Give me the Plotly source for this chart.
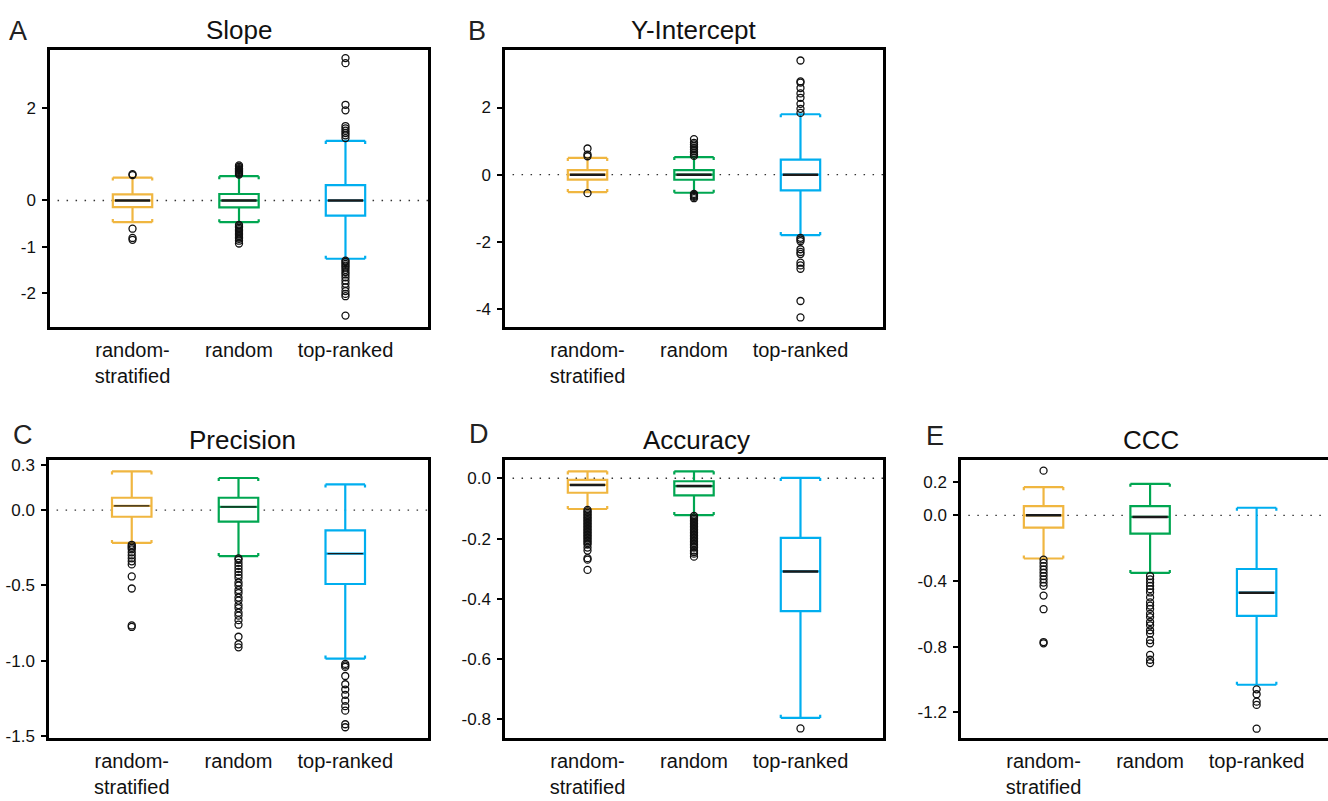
import plotly.graph_objects as go

W, H = 1328, 801

categories = ["random-<br>stratified", "random", "top-ranked"]
colors = ["#F0B640", "#00A651", "#00AEEF"]

# ---------------- data (q1, median, q3, lower whisker, upper whisker) --------------
slope_stats = [
    [-0.143, 0.0, 0.134, -0.468, 0.496],
    [-0.150, 0.0, 0.140, -0.470, 0.525],
    [-0.326, 0.0, 0.334, -1.260, 1.290],
]
slope_out = [
    [0.55, 0.57, -0.61, -0.81, -0.85],
    [0.56, 0.58, 0.60, 0.62, 0.64, 0.66, 0.68, 0.70, 0.73, 0.76,
     -0.53, -0.56, -0.59, -0.62, -0.65, -0.68, -0.71, -0.74, -0.77, -0.80, -0.83, -0.87, -0.93],
    [3.08, 2.97, 2.07, 1.95, 1.61, 1.56, 1.51, 1.46, 1.41, 1.35,
     -1.30, -1.33, -1.37, -1.41, -1.45, -1.50, -1.55, -1.60, -1.66, -1.73, -1.80, -1.88,
     -1.96, -2.02, -2.07, -2.49],
]

yint_stats = [
    [-0.146, 0.0, 0.134, -0.517, 0.500],
    [-0.150, 0.0, 0.134, -0.537, 0.525],
    [-0.467, 0.0, 0.447, -1.800, 1.800],
]
yint_out = [
    [0.78, 0.60, 0.55, -0.55],
    [1.06, 0.95, 0.90, 0.85, 0.80, 0.75, 0.70, 0.65, 0.60, 0.56,
     -0.57, -0.60, -0.63, -0.66, -0.70],
    [3.40, 2.78, 2.74, 2.58, 2.42, 2.29, 2.11, 1.96, 1.84,
     -1.88, -1.93, -1.98, -2.22, -2.30, -2.36, -2.62, -2.70, -2.80, -3.76, -4.25],
]

prec_stats = [
    [-0.044, 0.028, 0.082, -0.218, 0.257],
    [-0.076, 0.022, 0.082, -0.305, 0.213],
    [-0.490, -0.288, -0.135, -0.985, 0.170],
]
prec_out = [
    [-0.23, -0.24, -0.25, -0.26, -0.28, -0.30, -0.32, -0.34, -0.36, -0.44, -0.52, -0.765, -0.775],
    [-0.32, -0.33, -0.35, -0.37, -0.39, -0.41, -0.43, -0.45, -0.48, -0.50, -0.53, -0.55,
     -0.58, -0.60, -0.63, -0.65, -0.68, -0.70, -0.73, -0.76, -0.84, -0.89, -0.91],
    [-1.02, -1.03, -1.04, -1.10, -1.155, -1.19, -1.225, -1.264, -1.30, -1.33, -1.42, -1.44],
]

acc_stats = [
    [-0.048, -0.022, -0.0055, -0.102, 0.023],
    [-0.057, -0.026, -0.0098, -0.122, 0.023],
    [-0.441, -0.309, -0.198, -0.795, 0.001],
]
acc_out = [
    [-0.105, -0.110, -0.115, -0.120, -0.125, -0.130, -0.135, -0.140, -0.145, -0.150,
     -0.155, -0.160, -0.165, -0.170, -0.175, -0.180, -0.185, -0.190, -0.195, -0.200,
     -0.205, -0.210, -0.215, -0.220, -0.230, -0.240, -0.265, -0.270, -0.304],
    [-0.125, -0.130, -0.135, -0.140, -0.145, -0.150, -0.155, -0.160, -0.165, -0.170,
     -0.175, -0.180, -0.185, -0.190, -0.195, -0.200, -0.205, -0.210, -0.215, -0.220,
     -0.225, -0.230, -0.240, -0.245, -0.250, -0.260],
    [-0.83],
]

ccc_stats = [
    [-0.075, 0.000, 0.056, -0.263, 0.172],
    [-0.111, -0.010, 0.056, -0.351, 0.192],
    [-0.613, -0.471, -0.327, -1.032, 0.046],
]
ccc_out = [
    [0.272, -0.27, -0.29, -0.31, -0.33, -0.35, -0.37, -0.39, -0.41, -0.43, -0.489, -0.572, -0.772, -0.780],
    [-0.37, -0.39, -0.41, -0.43, -0.45, -0.47, -0.50, -0.53, -0.55, -0.57, -0.60, -0.62,
     -0.65, -0.67, -0.70, -0.72, -0.76, -0.78, -0.85, -0.88, -0.90],
    [-1.06, -1.09, -1.135, -1.155, -1.30],
]

slope_ticks = ([2, 0, -1, -2], ["2", "0", "-1", "-2"])
yint_ticks = ([2, 0, -2, -4], ["2", "0", "-2", "-4"])
prec_ticks = ([0.3, 0.0, -0.5, -1.0, -1.5], ["0.3", "0.0", "-0.5", "-1.0", "-1.5"])
acc_ticks = ([0.0, -0.2, -0.4, -0.6, -0.8], ["0.0", "-0.2", "-0.4", "-0.6", "-0.8"])
ccc_ticks = ([0.2, 0.0, -0.4, -0.8, -1.2], ["0.2", "0.0", "-0.4", "-0.8", "-1.2"])

# ---------------- panel layout (pixels) ----------------
panels = [
    dict(letter="A", title="Slope", stats=slope_stats, out=slope_out, ticks=slope_ticks,
         px=(50, 428), py=(45.5, 327.5), yr=[-2.74, 3.26], xr=[-0.775, 2.775], med_w=2.5,
         letter_xy=(18, 26), title_xy=(239, 25), right=True),
    dict(letter="B", title="Y-Intercept", stats=yint_stats, out=yint_out, ticks=yint_ticks,
         px=(505, 883), py=(45.5, 327.5), yr=[-4.54, 3.72], xr=[-0.775, 2.775], med_w=2.5,
         letter_xy=(477, 26), title_xy=(694, 25), right=True),
    dict(letter="C", title="Precision", stats=prec_stats, out=prec_out, ticks=prec_ticks,
         px=(49, 428), py=(463, 745.5), yr=[-1.514, 0.329], xr=[-0.775, 2.775], med_w=1.2,
         letter_xy=(23, 437), title_xy=(242, 442), right=True),
    dict(letter="D", title="Accuracy", stats=acc_stats, out=acc_out, ticks=acc_ticks,
         px=(505, 883), py=(463, 745.5), yr=[-0.863, 0.059], xr=[-0.775, 2.775], med_w=2.5,
         letter_xy=(479, 436), title_xy=(696, 442), right=True),
    dict(letter="E", title="CCC", stats=ccc_stats, out=ccc_out, ticks=ccc_ticks,
         px=(961, 1328), py=(463, 745.5), yr=[-1.359, 0.334], xr=[-0.775, 2.67], med_w=2.5,
         letter_xy=(935, 438), title_xy=(1151, 442), right=False),
]

BOXW = 0.37
FONT = "Liberation Sans, Arial, sans-serif"

fig = go.Figure()
annotations = []
shapes = []
layout = {}

for i, p in enumerate(panels):
    n = "" if i == 0 else str(i + 1)
    xa, ya = "x" + n, "y" + n
    span = p["yr"][1] - p["yr"][0]
    hook = span * 0.011
    for j in range(3):
        q1, med, q3, lo, hi = p["stats"][j]
        fig.add_trace(go.Box(
            x=[j], q1=[q1], median=[med], q3=[q3], lowerfence=[lo], upperfence=[hi],
            width=BOXW, whiskerwidth=1, boxpoints=False, fillcolor="white",
            line=dict(color=colors[j], width=2.2), xaxis=xa, yaxis=ya,
            showlegend=False, hoverinfo="skip"))
        # bracket hooks at whisker caps
        hx, hy = [], []
        for sx in (-1, 1):
            hx += [j + sx * BOXW / 2, j + sx * BOXW / 2, None, j + sx * BOXW / 2, j + sx * BOXW / 2, None]
            hy += [hi, hi - hook, None, lo, lo + hook, None]
        fig.add_trace(go.Scatter(x=hx, y=hy, mode="lines", line=dict(color=colors[j], width=2.2),
                                 xaxis=xa, yaxis=ya, showlegend=False, hoverinfo="skip"))
        # black median
        fig.add_trace(go.Scatter(x=[j - BOXW / 2 + 0.02, j + BOXW / 2 - 0.02], y=[med, med],
                                 mode="lines", line=dict(color="#1a1a1a", width=p["med_w"]),
                                 xaxis=xa, yaxis=ya, showlegend=False, hoverinfo="skip"))
        # outliers
        outs = p["out"][j]
        fig.add_trace(go.Scatter(x=[j] * len(outs), y=outs, mode="markers",
                                 marker=dict(symbol="circle-open", size=7, color="#111",
                                             line=dict(width=1.3, color="#111")),
                                 xaxis=xa, yaxis=ya, showlegend=False, hoverinfo="skip"))

    layout["xaxis" + n] = dict(
        domain=[p["px"][0] / W, p["px"][1] / W], range=p["xr"], anchor=ya,
        tickvals=[0, 1, 2], ticktext=categories, ticks="", showgrid=False, zeroline=False,
        showline=True, linecolor="black", linewidth=2.5, mirror=True, ticklabelstandoff=3,
        tickfont=dict(family=FONT, size=20, color="#111"), fixedrange=True)
    layout["yaxis" + n] = dict(
        domain=[1 - p["py"][1] / H, 1 - p["py"][0] / H], range=p["yr"], anchor=xa,
        tickvals=p["ticks"][0], ticktext=p["ticks"][1], ticks="outside", ticklen=5,
        tickwidth=1.5, tickcolor="black", showgrid=False, zeroline=False,
        showline=True, linecolor="black", linewidth=2.5, mirror=p["right"], ticklabelstandoff=3,
        tickfont=dict(family=FONT, size=17, color="#111"), fixedrange=True)
    shapes.append(dict(type="line", xref=xa + " domain", yref=ya, x0=0.02, x1=1, y0=0, y1=0,
                       line=dict(color="#333", width=1.3, dash="1.5px,7.5px"), layer="below"))
    annotations.append(dict(text=p["letter"], x=p["letter_xy"][0] / W, y=1 - p["letter_xy"][1] / H,
                            xref="paper", yref="paper", xanchor="center", yanchor="middle",
                            showarrow=False, font=dict(family=FONT, size=27, color="#222")))
    annotations.append(dict(text=p["title"], x=p["title_xy"][0] / W, y=1 - p["title_xy"][1] / H,
                            xref="paper", yref="paper", xanchor="center", yanchor="middle",
                            showarrow=False, font=dict(family=FONT, size=26, color="#111")))

fig.update_layout(width=W, height=H, margin=dict(l=0, r=0, t=0, b=0),
                  paper_bgcolor="white", plot_bgcolor="white",
                  annotations=annotations, shapes=shapes, **layout)
fig.write_html("out.html", config={"displayModeBar": False},
               post_script="document.body.style.margin='0';document.body.style.overflow='hidden';")
